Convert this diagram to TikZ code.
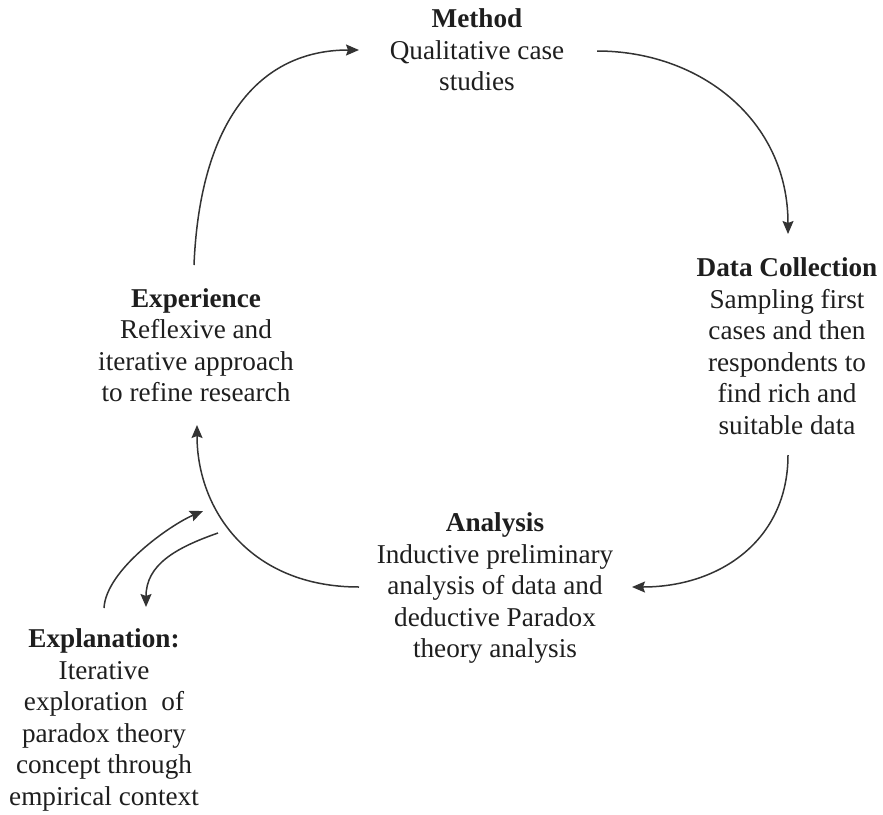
\documentclass[tikz,border=0pt]{standalone}
\usepackage{fontspec}
\setmainfont{Liberation Serif}
\usepackage{xcolor}
\usepackage{tikz}
\usetikzlibrary{arrows.meta,positioning}
\definecolor{inkgray}{HTML}{1E1E1E}
\definecolor{linegray}{HTML}{333333}
\tikzset{
  stage/.style={align=center,text=inkgray,inner sep=2pt,font=\fontsize{13.6}{15.75}\selectfont},
  cycle/.style={-{Stealth[length=6.5pt,width=5.5pt,inset=1pt]},line width=0.75pt,draw=linegray},
  loop/.style={cycle}
}

\begin{document}
\begin{tikzpicture}[x=0.5pt,y=-0.5pt]
  \useasboundingbox (0,0) rectangle (883,814);
  \node[stage] (method) at (477,50) {\textbf{Method}\\Qualitative case\\studies};
  \node[stage] (datacol) at (787,346) {\textbf{Data Collection}\\Sampling first\\cases and then\\respondents to\\find rich and\\suitable data};
  \node[stage] (analysis) at (495,588) {\textbf{Analysis}\\Inductive preliminary\\analysis of data and\\deductive Paradox\\theory analysis};
  \node[stage] (experience) at (196,345) {\textbf{Experience}\\Reflexive and\\iterative approach\\to refine research};
  \node[stage] (explanation) at (104,720) {\textbf{Explanation:}\\Iterative\\exploration~ of\\paradox theory\\concept through\\empirical context};
  % ends of the arcs
  \coordinate (exp-out) at (194,265);
  \coordinate (met-in) at (359,50);
  \coordinate (met-out) at (597,51);
  \coordinate (dat-in) at (788,234);
  \coordinate (dat-out) at (788,455);
  \coordinate (ana-in) at (632,587);
  \coordinate (ana-out) at (359,587);
  \coordinate (exp-in) at (197,425);
  \coordinate (expl-out) at (104,608);
  \coordinate (loop-in) at (203,511);
  \coordinate (loop-out) at (218,533);
  \coordinate (expl-in) at (146,607);
  % main cycle
  \draw[cycle] (exp-out) .. controls (200,120) and (260,50) .. (met-in);
  \draw[cycle] (met-out) .. controls (700,51) and (788,120) .. (dat-in);
  \draw[cycle] (dat-out) .. controls (788,540) and (720,587) .. (ana-in);
  \draw[cycle] (ana-out) .. controls (250,587) and (197,510) .. (exp-in);
  % explanation loop
  \draw[loop] (expl-out) .. controls (106,570) and (170,525) .. (loop-in);
  \draw[loop] (loop-out) .. controls (175,548) and (146,565) .. (expl-in);
\end{tikzpicture}
\end{document}
